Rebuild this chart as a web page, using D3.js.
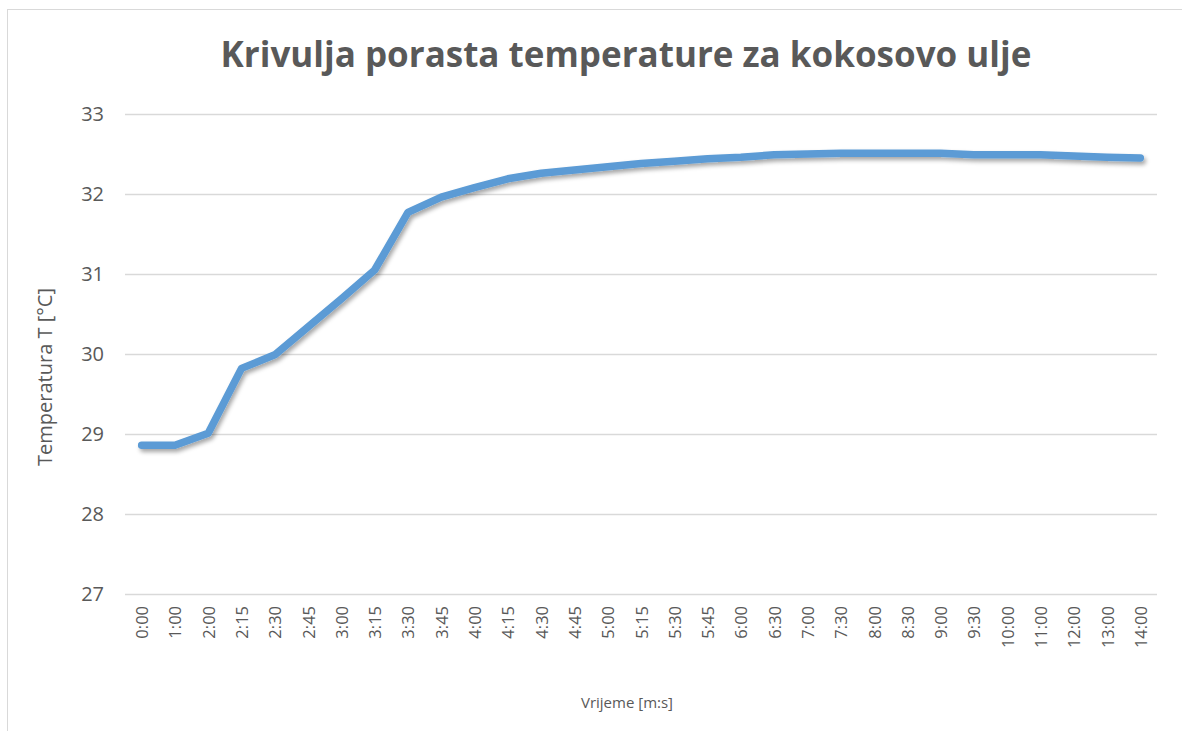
<!DOCTYPE html>
<html>
<head>
<meta charset="utf-8">
<script src="https://cdn.jsdelivr.net/npm/d3@7"></script>
<style>
  body { margin: 0; background: #fff; }
  text { font-family: "Open Sans", "Liberation Sans", sans-serif; fill: #595959; }
</style>
</head>
<body>
<svg width="1182" height="731"></svg>
<script>
// vrijeme (kategorije) i izmjerena temperatura
const times = ['0:00','1:00','2:00','2:15','2:30','2:45','3:00','3:15','3:30','3:45',
  '4:00','4:15','4:30','4:45','5:00','5:15','5:30','5:45','6:00','6:30',
  '7:00','7:30','8:00','8:30','9:00','9:30','10:00','11:00','12:00','13:00','14:00'];
const temps = [28.86, 28.86, 29.01, 29.82, 29.99, 30.34, 30.69, 31.05, 31.77, 31.96,
  32.08, 32.19, 32.26, 32.30, 32.34, 32.38, 32.41, 32.44, 32.46, 32.49,
  32.50, 32.51, 32.51, 32.51, 32.51, 32.49, 32.49, 32.49, 32.475, 32.46, 32.45];
const yTicks = [27, 28, 29, 30, 31, 32, 33];

const svg = d3.select('svg');

// okvir grafikona (odrezan desno i dolje)
svg.append('rect')
    .attr('x', 7.5).attr('y', 9.5)
    .attr('width', 1300).attr('height', 900)
    .attr('fill', 'none')
    .attr('stroke', '#d9d9d9');

const x = d3.scalePoint().domain(times).range([125, 1157]).padding(0.5);
const y = d3.scaleLinear().domain([27, 33]).range([594, 114]);

// mreža
svg.append('g')
    .selectAll('line')
    .data(yTicks)
    .join('line')
    .attr('x1', 125).attr('x2', 1157)
    .attr('y1', d => Math.round(y(d)) + 0.5)
    .attr('y2', d => Math.round(y(d)) + 0.5)
    .attr('stroke', '#d9d9d9')
    .attr('stroke-width', 1.3);

// y os
const yAxis = svg.append('g')
    .attr('transform', 'translate(125,0)')
    .call(d3.axisLeft(y).tickValues(yTicks).tickFormat(d3.format('d')).tickSize(0).tickPadding(21));
yAxis.select('.domain').remove();
yAxis.selectAll('text')
    .attr('font-size', 20)
    .attr('font-family', null)
    .attr('fill', '#595959');

// x os
const xAxis = svg.append('g')
    .attr('transform', 'translate(0,594)')
    .call(d3.axisBottom(x).tickSize(0));
xAxis.select('.domain').remove();
xAxis.selectAll('text')
    .attr('font-size', 16.5)
    .attr('font-family', null)
    .attr('fill', '#595959')
    .attr('text-anchor', 'end')
    .attr('dy', null)
    .attr('y', 0)
    .attr('transform', 'translate(6,12) rotate(-90)');

// sjena linije
const defs = svg.append('defs');
defs.append('filter')
    .attr('id', 'sjena')
    .attr('x', '-5%').attr('y', '-20%')
    .attr('width', '110%').attr('height', '140%')
    .append('feDropShadow')
    .attr('dx', 2).attr('dy', 3)
    .attr('stdDeviation', 2)
    .attr('flood-color', '#000')
    .attr('flood-opacity', 0.35);

const line = d3.line()
    .x((d, i) => x(times[i]))
    .y(d => y(d));

svg.append('path')
    .datum(temps)
    .attr('d', line)
    .attr('fill', 'none')
    .attr('stroke', '#5b9bd5')
    .attr('stroke-width', 7.5)
    .attr('stroke-linejoin', 'round')
    .attr('stroke-linecap', 'round')
    .attr('filter', 'url(#sjena)');

// naslovi
svg.append('text')
    .attr('x', 626).attr('y', 67)
    .attr('text-anchor', 'middle')
    .attr('font-size', 35)
    .attr('font-weight', 'bold')
    .text('Krivulja porasta temperature za kokosovo ulje');

svg.append('text')
    .attr('x', 627).attr('y', 708)
    .attr('text-anchor', 'middle')
    .attr('font-size', 15)
    .text('Vrijeme [m:s]');

svg.append('text')
    .attr('transform', 'translate(52,377) rotate(-90)')
    .attr('text-anchor', 'middle')
    .attr('font-size', 20)
    .text('Temperatura T [°C]');
</script>
</body>
</html>
